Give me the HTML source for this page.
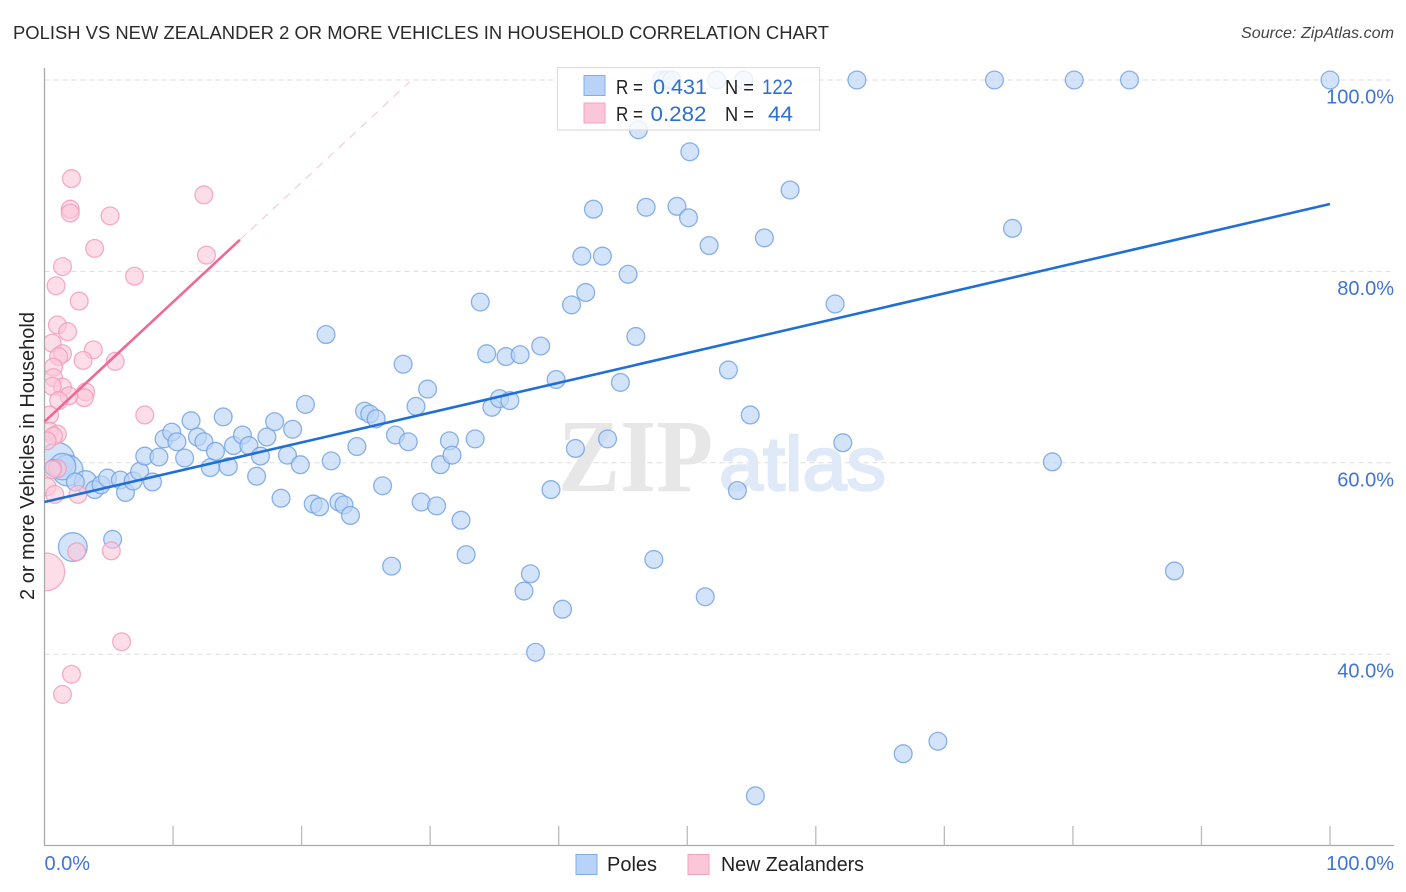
<!DOCTYPE html>
<html lang="en">
<head>
<meta charset="utf-8">
<title>Polish vs New Zealander 2 or More Vehicles in Household Correlation Chart</title>
<style>
html,body{margin:0;padding:0;background:#fff;}
body{width:1406px;height:892px;overflow:hidden;}
svg{display:block;font-family:"Liberation Sans",sans-serif;}
</style>
</head>
<body>
<svg id="chart" xmlns="http://www.w3.org/2000/svg" width="1406" height="892" viewBox="0 0 1406 892">
  <rect x="0" y="0" width="1406" height="892" fill="#ffffff"/>
  <text x="13" y="39" font-size="18.6" fill="#2b2b2b" textLength="816" lengthAdjust="spacingAndGlyphs">POLISH VS NEW ZEALANDER 2 OR MORE VEHICLES IN HOUSEHOLD CORRELATION CHART</text>
  <text x="1394" y="38" font-size="16" font-style="italic" fill="#444444" text-anchor="end" textLength="153" lengthAdjust="spacingAndGlyphs">Source: ZipAtlas.com</text>

  <g id="grid"></g>

  <g>
    <text x="558" y="491" font-family="'Liberation Serif',serif" font-size="104" font-weight="700" fill="#e7e7e7" textLength="155" lengthAdjust="spacingAndGlyphs">ZIP</text>
    <text x="719" y="490" font-size="76" fill="#dfe9f8" stroke="#dfe9f8" stroke-width="2.4" textLength="167" lengthAdjust="spacingAndGlyphs">atlas</text>
  </g>

  <svg id="points" x="44.5" y="60" width="1350" height="785.5" viewBox="44.5 60 1350 785.5"></svg>
  <rect x="0" y="60" width="44.5" height="786" fill="#ffffff"/>
  <g id="axes"></g>
  <g id="trends"></g>
  <g id="tick-labels" font-size="20" fill="#3f74d6"></g>

  <text transform="translate(34,456) rotate(-90)" font-size="20" fill="#222222" text-anchor="middle">2 or more Vehicles in Household</text>

  <g>
    <rect x="557.5" y="67.5" width="262" height="62.5" fill="#ffffff" fill-opacity="0.8" stroke="#dddddd" stroke-width="1.2"/>
    <rect x="584" y="75.5" width="21" height="20" fill="#b9d3f8" stroke="#82aee8" stroke-width="1"/>
    <rect x="584" y="103" width="21" height="20" fill="#fbc6d8" stroke="#f3a3bf" stroke-width="1"/>
    <g font-size="20" fill="#222222">
      <text x="616" y="94" textLength="27" lengthAdjust="spacingAndGlyphs">R =</text>
      <text x="616" y="121" textLength="27" lengthAdjust="spacingAndGlyphs">R =</text>
      <text x="725" y="94" textLength="29" lengthAdjust="spacingAndGlyphs">N =</text>
      <text x="725" y="121" textLength="29" lengthAdjust="spacingAndGlyphs">N =</text>
    </g>
    <g font-size="21" fill="#2e6fd0">
      <text x="653" y="94" textLength="54" lengthAdjust="spacingAndGlyphs">0.431</text>
      <text x="650.5" y="121" textLength="56" lengthAdjust="spacingAndGlyphs">0.282</text>
      <text x="762" y="94" textLength="31" lengthAdjust="spacingAndGlyphs">122</text>
      <text x="768" y="121" textLength="25" lengthAdjust="spacingAndGlyphs">44</text>
    </g>
  </g>

  <g>
    <rect x="576" y="854.5" width="21" height="20" fill="#b9d3f8" stroke="#82aee8" stroke-width="1"/>
    <text x="607" y="871" font-size="20" fill="#222222">Poles</text>
    <rect x="688" y="854.5" width="21" height="20" fill="#fbc6d8" stroke="#f3a3bf" stroke-width="1"/>
    <text x="721" y="871" font-size="20" fill="#222222" textLength="143" lengthAdjust="spacingAndGlyphs">New Zealanders</text>
  </g>
</svg>

<script>
// ---- chart data (percent values) ----
const yTicks = [100, 80, 60, 40];
const yTickLabels = ["100.0%", "80.0%", "60.0%", "40.0%"];
const xTicks = [0, 10, 20, 30, 40, 50, 60, 70, 80, 90, 100];
const xEndLabels = ["0.0%", "100.0%"];

const polesX = [1.0,1.8,1.4,0.7,2.2,3.2,2.4,3.9,4.4,4.9,5.9,6.3,6.9,7.4,7.8,8.9,8.4,9.3,9.9,10.3,10.9,11.4,11.9,12.4,12.9,13.3,13.9,14.3,14.7,15.4,15.9,16.5,16.8,17.3,17.9,18.4,18.9,19.3,19.9,20.3,20.9,21.4,21.9,22.3,22.9,23.3,23.8,24.3,24.9,25.3,25.8,26.3,27.0,27.3,27.9,28.3,28.9,29.3,29.8,30.5,30.8,31.5,31.7,32.4,32.8,33.5,33.9,34.4,34.8,35.4,36.2,35.9,37.0,37.3,37.8,38.2,38.6,39.4,39.8,40.3,41.0,41.3,41.8,42.1,42.7,43.4,43.8,44.8,45.4,46.0,46.2,46.8,47.4,48.0,48.4,48.8,49.2,50.1,50.2,51.4,51.7,52.3,53.2,53.9,54.4,54.9,55.3,56.0,58.0,61.5,62.1,63.2,66.8,69.5,73.9,75.3,78.4,80.1,84.4,87.9,100,5.3];
const polesY = [60.3,59.2,59.6,59.5,51.2,58.0,58.0,57.2,57.7,58.4,58.2,56.9,58.1,59.1,60.7,60.6,58.0,62.5,63.2,62.2,60.5,64.4,62.7,62.2,59.5,61.2,64.8,59.6,61.8,62.9,61.8,58.6,60.7,62.7,64.3,56.3,60.8,63.5,59.8,66.1,55.7,55.4,73.4,60.2,55.9,55.6,54.5,61.7,65.4,65.1,64.6,57.6,49.2,62.9,70.3,62.2,65.9,55.9,67.7,55.5,59.8,62.3,60.8,54.0,50.4,62.5,76.8,71.4,65.8,66.7,66.5,71.1,71.3,46.6,48.4,40.2,72.2,57.2,68.7,44.7,76.5,61.5,81.6,77.8,86.5,81.6,62.5,68.4,79.7,73.2,94.8,86.7,49.9,100,100,100,86.8,85.6,92.5,46.0,82.7,100,69.7,57.1,100,65.0,25.2,83.5,88.5,76.6,62.1,100,29.6,30.9,100,84.5,60.1,100,100,48.7,100,52.0];
// relative sample weights of the leading, larger poles points; the rest default to 1
const polesWeights = [3.8,3.0,2.2,0.85,2.6,1.6];

const newZealandersX = [0.1,2.1,2.0,2.0,5.1,12.4,3.9,12.6,1.4,7.0,0.9,2.7,1.0,1.8,0.6,3.8,1.4,1.1,3.0,5.5,0.7,0.7,1.4,0.6,3.2,3.1,1.9,1.1,7.8,0.4,0.4,1.0,0.7,0.2,1.0,0.6,0.2,0.8,2.6,2.5,5.2,6.0,2.1,1.4];
const newZealandersY = [48.6,89.7,86.5,86.1,85.8,88.0,82.4,81.7,80.5,79.5,78.5,76.9,74.4,73.7,72.5,71.8,71.4,71.1,70.7,70.6,70.0,68.9,67.9,68.0,67.4,66.8,67.0,66.5,65.0,65.0,63.3,63.0,62.8,62.3,59.4,59.3,57.5,56.7,56.7,50.7,50.8,41.3,37.9,35.8];
const newZealandersWeights = [4.5];

const polesTrendX = [0, 100];
const polesTrendY = [55.9, 87.04];
const newZealandersTrendX = [0, 15.2];
const newZealandersTrendY = [64.3, 83.3];
const newZealandersExtendX = [15.2, 28.4];
const newZealandersExtendY = [83.3, 99.8];

// ---- axis functions ----
const NS = "http://www.w3.org/2000/svg";
function xScale(v) { return 44.5 + v * 12.855; }
function yScale(v) { return 80 + (100 - v) * 9.57; }
function rScale(w) { return 8.9 * Math.sqrt(w); }

function make(tag, attrs, parent) {
  const el = document.createElementNS(NS, tag);
  for (const k in attrs) el.setAttribute(k, attrs[k]);
  parent.appendChild(el);
  return el;
}

const gridG = document.getElementById("grid");
const axesG = document.getElementById("axes");
const pointsG = document.getElementById("points");
const trendsG = document.getElementById("trends");
const labelsG = document.getElementById("tick-labels");

yTicks.forEach(function (t, i) {
  const line = make("line", {x1: 44.5, x2: 1394, y1: yScale(t), y2: yScale(t), stroke: "#dddddd", "stroke-width": 1, "stroke-dasharray": "5 4"}, gridG);
  
  
  const label = make("text", {x: 1394, y: yScale(t) + 23.5, "text-anchor": "end"}, labelsG);
  label.textContent = yTickLabels[i];
  
  
});

const yAxis = make("line", {x1: 44.5, x2: 44.5, y1: 68, y2: 845.5, stroke: "#aaaaaa", "stroke-width": 1.3}, axesG);


const xAxis = make("line", {x1: 44, x2: 1394, y1: 845.5, y2: 845.5, stroke: "#aaaaaa", "stroke-width": 1.3}, axesG);



xTicks.forEach(function (t) {
  if (t === 0) return;
  const tick = make("line", {x1: xScale(t), x2: xScale(t), y1: 826, y2: 845.5, stroke: "#bbbbbb", "stroke-width": 1.3}, axesG);
  
  
});

const xLabelStart = make("text", {x: 44.5, y: 870}, labelsG);
xLabelStart.textContent = xEndLabels[0];


const xLabelEnd = make("text", {x: 1394, y: 870, "text-anchor": "end"}, labelsG);
xLabelEnd.textContent = xEndLabels[1];



polesX.forEach(function (v, i) {
  const w = i < polesWeights.length ? polesWeights[i] : 1;
  const c = make("circle", {cx: xScale(v), cy: yScale(polesY[i]), r: rScale(w), fill: "#bcd5f8", "fill-opacity": 0.65, stroke: "#6e9fe2", "stroke-opacity": 0.8, "stroke-width": 1.3}, pointsG);
  
  
});

newZealandersX.forEach(function (v, i) {
  const w = i < newZealandersWeights.length ? newZealandersWeights[i] : 1;
  const c = make("circle", {cx: xScale(v), cy: yScale(newZealandersY[i]), r: rScale(w), fill: "#fbc6d8", "fill-opacity": 0.6, stroke: "#f29ab8", "stroke-opacity": 0.8, "stroke-width": 1.3}, pointsG);
  
  
});

const nzExtend = make("line", {x1: xScale(newZealandersExtendX[0]), y1: yScale(newZealandersExtendY[0]), x2: xScale(newZealandersExtendX[1]), y2: yScale(newZealandersExtendY[1]), stroke: "#f4c0d2", "stroke-width": 1, "stroke-dasharray": "8 7"}, trendsG);


const nzTrend = make("line", {x1: xScale(newZealandersTrendX[0]), y1: yScale(newZealandersTrendY[0]), x2: xScale(newZealandersTrendX[1]), y2: yScale(newZealandersTrendY[1]), stroke: "#ec6a94", "stroke-width": 2.6}, trendsG);


const polesTrend = make("line", {x1: xScale(polesTrendX[0]), y1: yScale(polesTrendY[0]), x2: xScale(polesTrendX[1]), y2: yScale(polesTrendY[1]), stroke: "#1f6fd6", "stroke-width": 2.6}, trendsG);


</script>
</body>
</html>
